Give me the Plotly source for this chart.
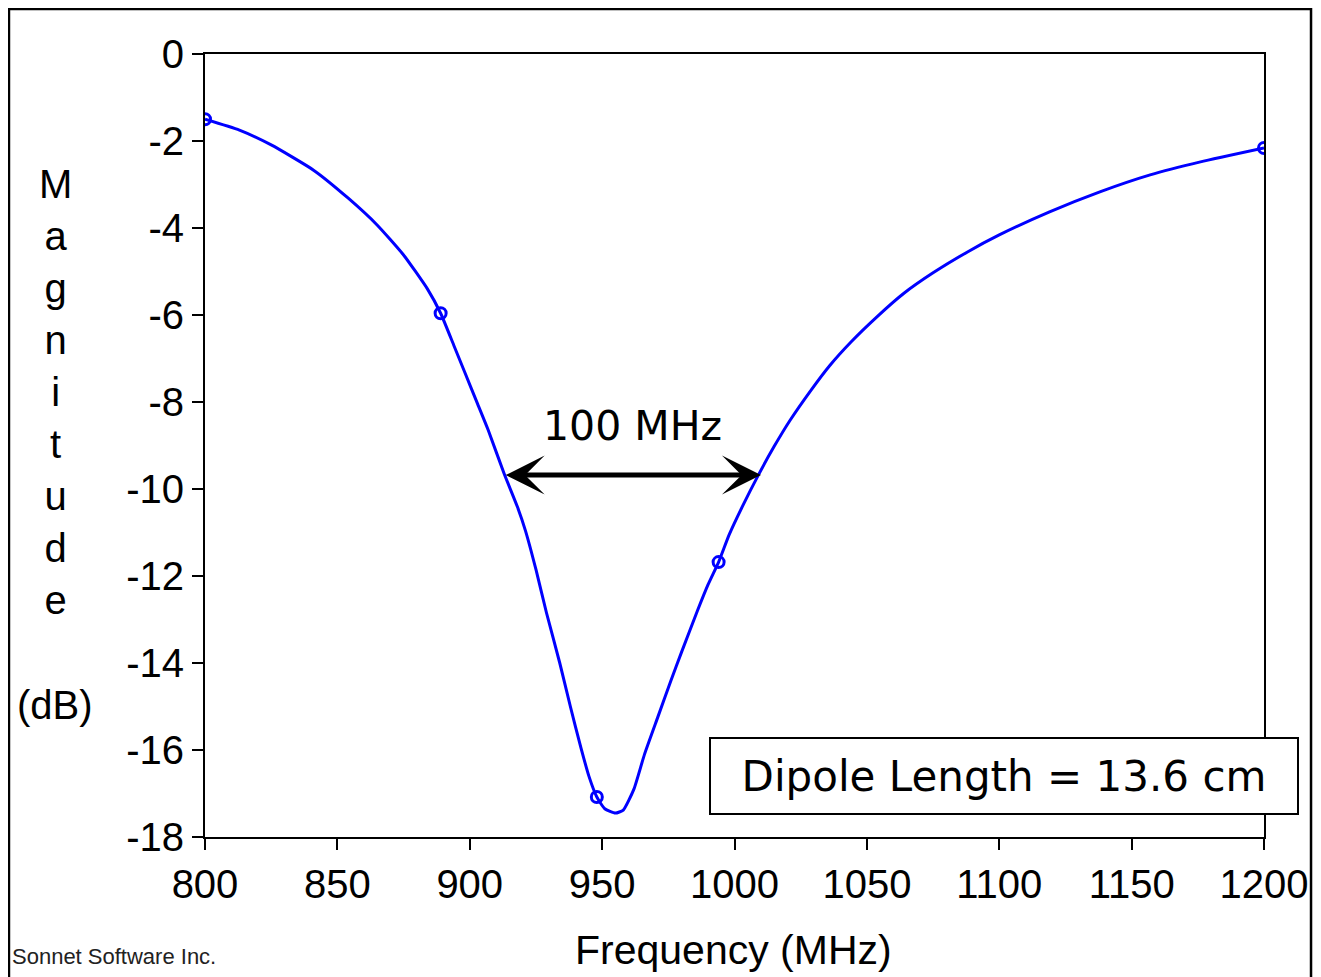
import plotly.graph_objects as go

# data
freq = [800, 813, 825, 841, 854, 865, 875, 884, 889, 894, 898, 903, 907, 913, 918,
        921, 925, 929, 934, 938, 942, 945, 948, 951, 955, 958, 962, 966, 971, 976,
        980, 986, 990, 994, 998, 1003, 1009, 1015, 1021, 1029, 1036, 1044, 1054,
        1064, 1075, 1088, 1100, 1119, 1138, 1157, 1176, 1200]
mag = [-1.50, -1.75, -2.09, -2.67, -3.31, -3.93, -4.62, -5.40, -5.96, -6.70, -7.30,
       -8.05, -8.65, -9.65, -10.41, -10.95, -11.85, -12.85, -14.00, -15.00, -15.95,
       -16.60, -17.08, -17.35, -17.45, -17.38, -16.90, -16.10, -15.25, -14.40, -13.75,
       -12.80, -12.20, -11.68, -11.05, -10.40, -9.68, -9.02, -8.42, -7.72, -7.16,
       -6.62, -6.03, -5.50, -5.03, -4.55, -4.16, -3.63, -3.17, -2.78, -2.48, -2.16]

# analysed frequency points (markers)
pt_freq = [800, 889, 948, 994, 1200]
pt_mag = [-1.50, -5.96, -17.08, -11.68, -2.16]

x_ticks = [800, 850, 900, 950, 1000, 1050, 1100, 1150, 1200]
y_ticks = [0, -2, -4, -6, -8, -10, -12, -14, -16, -18]
y_labels = ["0", "-2", "-4", "-6", "-8", "-10", "-12", "-14", "-16", "-18"]

bw_lo, bw_hi, bw_level = 913, 1010, -9.68

ARIAL = "Liberation Sans, Arial, sans-serif"
TAHOMA = "DejaVu Sans, Tahoma, sans-serif"
BLUE = "#0000ff"

fig = go.Figure()
fig.add_trace(go.Scatter(x=freq, y=mag, mode="lines",
                         line=dict(color=BLUE, width=3, shape="spline", smoothing=0.5),
                         showlegend=False, hoverinfo="x+y"))
fig.add_trace(go.Scatter(x=pt_freq, y=pt_mag, mode="markers",
                         marker=dict(symbol="circle-open", size=11, color=BLUE,
                                     line=dict(color=BLUE, width=3)),
                         showlegend=False))

axis_common = dict(showgrid=False, zeroline=False, showline=True, linecolor="black",
                   linewidth=2, mirror=True, ticks="outside", ticklen=11, tickwidth=2,
                   tickcolor="black", tickfont=dict(family=ARIAL, size=40, color="black"))

fig.update_xaxes(range=[800, 1200], tickvals=x_ticks,
                 ticktext=[str(v) for v in x_ticks], **axis_common)
fig.update_yaxes(range=[-18, 0], tickvals=y_ticks, ticktext=y_labels, **axis_common)

# bandwidth arrow
fig.add_annotation(x=bw_hi, y=bw_level, ax=bw_lo, ay=bw_level, xref="x", yref="y",
                   axref="x", ayref="y", text="", showarrow=True, arrowhead=3,
                   arrowside="end+start", arrowwidth=5, arrowsize=1.3, arrowcolor="black",
                   standoff=0, startstandoff=0)
fig.add_annotation(x=(bw_lo + bw_hi) / 2, y=-8.55, xref="x", yref="y", text="100 MHz",
                   showarrow=False, font=dict(family=TAHOMA, size=41, color="black"))

# dipole length box
fig.add_annotation(x=0.7545, y=0.078, xref="paper", yref="paper",
                   text="Dipole Length = 13.6 cm", showarrow=False,
                   font=dict(family=TAHOMA, size=42, color="black"),
                   bgcolor="white", bordercolor="black", borderwidth=2, borderpad=4,
                   width=578, height=66, xanchor="center", yanchor="middle")

# stacked y-axis title
fig.add_annotation(x=-0.1416, y=0.5677, xref="paper", yref="paper",
                   text="<br>".join("Magnitude"), showarrow=False,
                   font=dict(family=ARIAL, size=40, color="black"),
                   xanchor="center", yanchor="middle", align="center")
fig.add_annotation(x=-0.1416, y=0.1686, xref="paper", yref="paper", text="(dB)",
                   showarrow=False, font=dict(family=ARIAL, size=40, color="black"),
                   xanchor="center", yanchor="middle")

# x-axis title
fig.add_annotation(x=0.4995, y=-0.1443, xref="paper", yref="paper",
                   text="Frequency (MHz)", showarrow=False,
                   font=dict(family=ARIAL, size=41, color="black"),
                   xanchor="center", yanchor="middle")

fig.add_annotation(x=-0.184, y=-0.153, xref="paper", yref="paper",
                   text="Sonnet Software Inc.", showarrow=False,
                   font=dict(family=ARIAL, size=22, color="#222222"),
                   xanchor="left", yanchor="middle")

# outer frame
fig.add_shape(type="rect", xref="paper", yref="paper", x0=-0.1851, x1=1.0444,
              y0=-0.19, y1=1.0575, line=dict(color="black", width=2.5))

# page body adds an 8 px margin, so the figure is smaller than the window
fig.update_layout(width=1313, height=969, plot_bgcolor="white", paper_bgcolor="white",
                  margin=dict(l=197, r=57, t=46, b=140))

fig.write_html("out.html")
